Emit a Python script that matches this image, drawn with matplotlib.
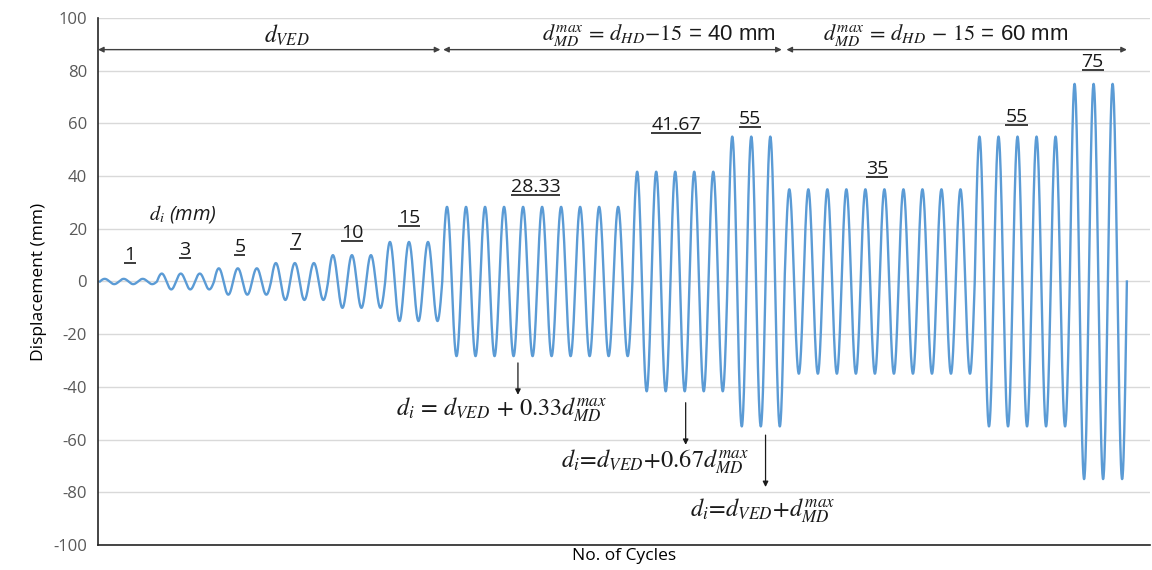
import numpy as np
import matplotlib
matplotlib.use('Agg')
import matplotlib.pyplot as plt

# ==============================================================================
# 1. DATEN (Amplitudenstufen und Zyklen je Stufe)
# ==============================================================================
amp_levels = [1, 3, 5, 7, 10, 15, 28.33, 41.67, 55, 35, 55, 75]
n_cycles = [3, 3, 3, 3, 3, 3, 10, 5, 3, 10, 5, 3]

# Beschriftungen der Stufen: (Text, Zyklus-Position, Hoehe)
level_labels = ['1', '3', '5', '7', '10', '15', '28.33', '41.67', '55', '35', '55', '75']
label_x = [1.58, 4.47, 7.36, 10.3, 13.25, 16.25, 22.9, 30.3, 34.2, 40.85, 48.2, 52.2]
label_y = [10, 12, 13, 15.3, 18.4, 24, 35.9, 59.4, 61.7, 42.7, 62.4, 83.3]

y_ticks = [-100, -80, -60, -40, -20, 0, 20, 40, 60, 80, 100]

# Abschnitte oben (Doppelpfeile)
sections = [(-0.1, 17.9), (18.05, 35.85), (36.1, 54.0)]
section_text = [r'$d_{VED}$',
                r'$d_{MD}^{max}\,=\,d_{HD}{-}15$ = 40 mm',
                r'$d_{MD}^{max}\,=\,d_{HD}\,-\,15$ = 60 mm']
section_text_x = [9.8, 29.4, 44.5]
section_size = [17, 16, 16]

# ==============================================================================
# 2. SIGNAL AUFBAUEN
# ==============================================================================
pts = 80
t_all, y_all = [], []
c0 = 0
for amp, n in zip(amp_levels, n_cycles):
    for k in range(n):
        t = np.linspace(0, 1, pts, endpoint=False)
        t_all.append(c0 + t)
        y_all.append(amp * np.sin(2 * np.pi * t))
        c0 += 1
t_all.append([c0])
y_all.append([0.0])
t_all = np.concatenate(t_all)
y_all = np.concatenate(y_all)

# ==============================================================================
# 3. DIAGRAMM
# ==============================================================================
plt.rcParams['font.family'] = ['Open Sans', 'DejaVu Sans']
plt.rcParams['mathtext.fontset'] = 'stix'
plt.rcParams['axes.unicode_minus'] = False

fig = plt.figure(figsize=(11.52, 5.70), dpi=100)
ax = fig.add_axes([0.0851, 0.0439, 0.9129, 0.9245])

ax.plot(t_all, y_all, color='#5B9BD5', linewidth=1.7)

ax.set_xlim(-0.1, 55.2)
ax.set_ylim(-100, 100)
ax.set_yticks(y_ticks)
ax.set_xticks([])
ax.tick_params(axis='y', length=0, labelsize=12, labelcolor='#595959', pad=8)
ax.grid(True, axis='y', color='#D9D9D9', linewidth=1)
ax.set_axisbelow(True)
for s in ['top', 'right']:
    ax.spines[s].set_visible(False)
ax.spines['left'].set_color('#262626')
ax.spines['bottom'].set_color('#262626')
ax.spines['left'].set_linewidth(1.2)
ax.spines['bottom'].set_linewidth(1.2)

ax.set_ylabel('Displacement (mm)', fontsize=12.5, labelpad=4)
ax.set_xlabel('No. of Cycles', fontsize=12.5, labelpad=2)

# Doppelpfeile oben
for (x0, x1), txt, tx, fs in zip(sections, section_text, section_text_x, section_size):
    ax.annotate('', xy=(x1, 88), xytext=(x0, 88),
                arrowprops=dict(arrowstyle='<|-|>', color='#404040', lw=1,
                                mutation_scale=8, shrinkA=0, shrinkB=0))
    ax.text(tx, 93.5, txt, fontsize=fs, ha='center', va='center', color='#1a1a1a',
            family=['Liberation Sans Narrow', 'Liberation Sans', 'DejaVu Sans'])

# Stufen-Beschriftungen (unterstrichen)
label_objs = []
for txt, lx, ly in zip(level_labels, label_x, label_y):
    label_objs.append(ax.text(lx, ly, txt, fontsize=14, ha='center', va='center',
                              color='#1a1a1a'))

ax.text(4.36, 25.6, r'$d_i$ (mm)', fontsize=14.5, ha='center', va='center',
        style='italic', color='#1a1a1a')

# Formeln mit Pfeilen
formulas = [r'$d_i\, =\, d_{VED}\, +\, 0.33 d_{MD}^{max}$',
            r'$d_i\!=\!d_{VED}\!+\!0.67 d_{MD}^{max}$',
            r'$d_i\!=\!d_{VED}\!+\!d_{MD}^{max}$']
formula_pos = [(21.1, -48.8), (29.2, -68.5), (34.86, -87)]
arrow_x = [21.98, 30.8, 35.0]
arrow_y = [(-30.9, -43), (-46, -62), (-58.3, -78)]
for f, (fx, fy), axx, (ya, yb) in zip(formulas, formula_pos, arrow_x, arrow_y):
    ax.text(fx, fy, f, fontsize=17.5, ha='center', va='center', color='#1a1a1a')
    ax.annotate('', xy=(axx, yb), xytext=(axx, ya),
                arrowprops=dict(arrowstyle='-|>', color='#1a1a1a', lw=0.9,
                                mutation_scale=8, shrinkA=0, shrinkB=0))

# Unterstreichungen nach dem Zeichnen berechnen
fig.canvas.draw()
renderer = fig.canvas.get_renderer()
inv = ax.transData.inverted()
for t in label_objs:
    bb = t.get_window_extent(renderer)
    (xa, ya), (xb, yb) = inv.transform([(bb.x0, bb.y0 + 1), (bb.x1, bb.y0 + 1)])
    ax.plot([xa, xb], [ya, yb], color='#1a1a1a', lw=1.2, solid_capstyle='butt')

fig.savefig('out.png', dpi=100)
